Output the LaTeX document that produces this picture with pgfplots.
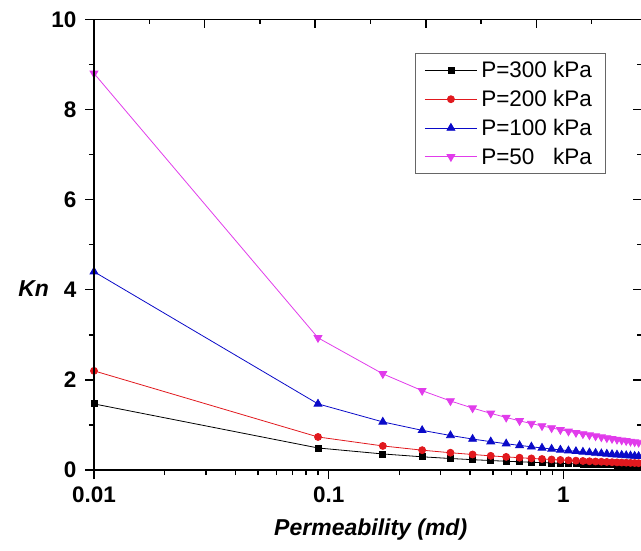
\documentclass[border=0pt]{standalone}
\usepackage{fontspec}
\setmainfont{Liberation Sans}
\usepackage{pgfplots}
\usepackage{pgfplotstable}
\pgfplotsset{compat=1.18}
\definecolor{kred}{RGB}{225,25,30}
\definecolor{kblue}{RGB}{10,10,200}
\definecolor{kmag}{RGB}{225,60,235}

% permeability (md) vs Kn for four pressures
\pgfplotstableread{
k     p300   p200   p100   p50
0.01  1.467  2.200  4.400  8.800
0.09  0.489  0.733  1.467  2.933
0.17  0.356  0.534  1.067  2.134
0.25  0.293  0.440  0.880  1.760
0.33  0.255  0.383  0.766  1.532
0.41  0.229  0.344  0.687  1.374
0.49  0.210  0.314  0.629  1.257
0.57  0.194  0.291  0.583  1.166
0.65  0.182  0.273  0.546  1.091
0.73  0.172  0.257  0.515  1.030
0.81  0.163  0.244  0.489  0.978
0.89  0.156  0.233  0.466  0.933
0.97  0.149  0.223  0.447  0.893
1.05  0.143  0.215  0.429  0.859
1.13  0.138  0.207  0.414  0.828
1.21  0.133  0.200  0.400  0.800
1.29  0.129  0.194  0.387  0.775
1.37  0.125  0.188  0.376  0.752
1.45  0.122  0.183  0.365  0.731
1.53  0.119  0.178  0.356  0.711
1.61  0.116  0.173  0.347  0.694
1.69  0.113  0.169  0.338  0.677
1.77  0.110  0.165  0.331  0.661
1.85  0.108  0.162  0.323  0.647
1.93  0.106  0.158  0.317  0.633
2.01  0.104  0.155  0.310  0.621
2.09  0.101  0.152  0.304  0.609
}\kndata

\begin{document}
\begin{tikzpicture}
\begin{axis}[
    scale only axis,
    width=548pt, height=450.7pt,
    xmode=log,
    xmin=0.01, xmax=2.16,
    ymin=0, ymax=10,
    xtick={0.01,0.1,1},
    xticklabels={0.01,0.1,1},
    ytick={0,2,4,6,8,10},
    yticklabels={0,2,4,6,8,10},
    minor ytick={1,3,5,7,9},
    xtick pos=bottom, ytick pos=left,
    tick align=outside,
    major tick length=9pt, minor tick length=5pt,
    axis line style={line width=1.6pt},
    tick style={black, line width=1.5pt},
    tick label style={font=\fontsize{22.5}{22.5}\selectfont\bfseries},
    yticklabel style={xshift=-5pt},
    xticklabel style={yshift=-4pt},
    xlabel={Permeability (md)},
    ylabel={Kn},
    every axis x label/.style={at={(axis description cs:0.505,-0.133)}, anchor=center,
        font=\fontsize{23}{23}\selectfont\bfseries\itshape},
    every axis y label/.style={at={(axis description cs:-0.110,0.4025)}, anchor=center,
        font=\fontsize{23}{23}\selectfont\bfseries\itshape},
    legend style={
        at={(axis description cs:0.586,0.925)},
        anchor=north west,
        draw=gray!80!black, line width=0.8pt,
        font=\fontsize{22.5}{22.5}\selectfont,
        inner xsep=9pt, inner ysep=6pt,
        row sep=7pt,
        nodes={inner xsep=4pt},
    },
    legend cell align=left,
    legend image code/.code={
        \draw[mark repeat=2,mark phase=2] plot coordinates {(0pt,0pt) (26pt,0pt) (52pt,0pt)};
    },
]
\addplot[black, line width=0.8pt, mark=square*, mark size=3pt, mark options={solid, fill=black}]
    table[x=k, y=p300] {\kndata};
\addplot[kred, line width=0.8pt, mark=*, mark size=3.5pt, mark options={solid, fill=kred}]
    table[x=k, y=p200] {\kndata};
\addplot[kblue, line width=0.8pt, mark=triangle*, mark size=4.5pt, mark options={solid, fill=kblue}]
    table[x=k, y=p100] {\kndata};
\addplot[kmag, line width=0.8pt, mark=triangle*, mark size=4.5pt, mark options={solid, fill=kmag, rotate=180}]
    table[x=k, y=p50] {\kndata};
\legend{P=300 kPa, P=200 kPa, P=100 kPa, P=50\phantom{0} kPa}
\end{axis}
% mirrored ticks on top and right, pointing inward
\begin{axis}[
    scale only axis,
    width=548pt, height=450.7pt,
    xmin=0, xmax=2.4775,
    ymin=0, ymax=10,
    xtick={0,0.5,1,1.5,2,2.5},
    minor x tick num=1,
    ytick={0,2,4,6,8,10},
    minor ytick={1,3,5,7,9},
    xtick pos=top, ytick pos=right,
    tick align=inside,
    xticklabels={}, yticklabels={},
    major tick length=9pt, minor tick length=5pt,
    axis line style={line width=1.6pt},
    tick style={black, line width=1.5pt},
]
\end{axis}
\pgfresetboundingbox
\path (-94pt,-80pt) rectangle (547pt,470pt);
\end{tikzpicture}
\end{document}
